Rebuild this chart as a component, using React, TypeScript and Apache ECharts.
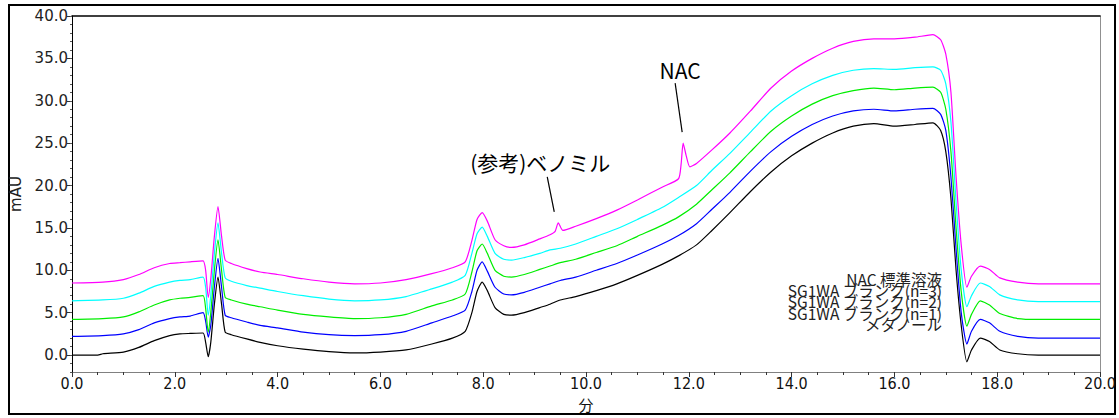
import React, { useEffect, useRef } from 'react';
import * as echarts from 'echarts';

const SERIES_NAMES = ['NAC 標準溶液', 'SG1WA ブランク(n=3)', 'SG1WA ブランク(n=2)', 'SG1WA ブランク(n=1)', 'メタノール'];
const SERIES_COLORS = ['#ff00ff', '#00ffff', '#00ee00', '#0000ff', '#000000'];

const X_LABELS = [0, 2, 4, 6, 8, 10, 12, 14, 16, 18, 20];
const Y_LABELS = [0, 5, 10, 15, 20, 25, 30, 35, 40];
const X_TITLE = '分';
const Y_TITLE = 'mAU';

type P = [number, number];

const NAC_STD: P[] = [
  [0, 8.5], [0.6, 8.6], [1.0, 8.9], [1.3, 9.5], [1.6, 10.3], [1.9, 10.8], [2.1, 10.9], [2.3, 11.0], [2.55, 11.1],
  [2.6, 10.0], [2.65, 6.8], [2.7, 9.0], [2.77, 14.0], [2.84, 17.5], [2.91, 14.0], [2.98, 11.2], [3.1, 10.8],
  [3.4, 10.2], [3.66, 9.8], [4.0, 9.5], [4.5, 9.0], [5.0, 8.6], [5.5, 8.4], [6.0, 8.5], [6.5, 8.9], [7.0, 9.6],
  [7.4, 10.3], [7.65, 11.0], [7.78, 13.5], [7.88, 16.0], [7.98, 16.8], [8.08, 15.8], [8.23, 13.6], [8.4, 12.9],
  [8.55, 12.7], [8.8, 13.0], [9.1, 13.7], [9.3, 14.2], [9.4, 14.6], [9.46, 15.6], [9.55, 14.7], [9.8, 15.2],
  [10.2, 16.1], [10.6, 17.1], [11.0, 18.3], [11.48, 19.8], [11.8, 20.8], [11.85, 22.5], [11.89, 25.0],
  [11.95, 23.5], [12.02, 22.2], [12.15, 22.6], [12.45, 24.2], [12.8, 26.2], [13.2, 28.8], [13.6, 31.5],
  [14.0, 33.5], [14.4, 35.0], [14.8, 36.2], [15.2, 37.0], [15.6, 37.3], [16.0, 37.3], [16.4, 37.5],
  [16.75, 37.8], [16.9, 37.2], [17.0, 35.5], [17.1, 31.0], [17.2, 21.0], [17.3, 13.0], [17.41, 8.0],
  [17.5, 9.3], [17.67, 10.5], [17.85, 10.1], [18.05, 9.1], [18.4, 8.6], [18.8, 8.4], [20, 8.4],
];

const BLANK_3: P[] = [
  [0, 6.4], [0.6, 6.5], [1.0, 6.7], [1.3, 7.3], [1.6, 8.1], [1.9, 8.6], [2.1, 8.8], [2.3, 8.9], [2.55, 9.2],
  [2.6, 8.0], [2.65, 4.7], [2.7, 7.0], [2.77, 12.0], [2.84, 15.6], [2.91, 12.0], [2.98, 9.1], [3.1, 8.7],
  [3.4, 8.2], [3.66, 7.9], [4.0, 7.5], [4.5, 7.0], [5.0, 6.6], [5.5, 6.4], [6.0, 6.5], [6.5, 6.9], [7.0, 7.8],
  [7.4, 8.6], [7.65, 9.4], [7.78, 12.0], [7.88, 14.3], [7.98, 15.1], [8.08, 14.0], [8.23, 12.0], [8.4, 11.3],
  [8.55, 11.2], [8.8, 11.5], [9.1, 12.0], [9.3, 12.4], [9.5, 12.6], [9.8, 13.1], [10.2, 14.0], [10.6, 14.9],
  [11.0, 16.0], [11.48, 17.4], [11.8, 18.6], [12.15, 20.0], [12.45, 21.8], [12.8, 23.8], [13.2, 26.3],
  [13.6, 28.8], [14.0, 30.6], [14.4, 32.0], [14.8, 33.0], [15.2, 33.6], [15.6, 33.8], [16.0, 33.7],
  [16.4, 33.9], [16.75, 34.0], [16.9, 33.6], [17.0, 32.0], [17.1, 27.5], [17.2, 18.0], [17.3, 10.0],
  [17.41, 5.7], [17.5, 7.0], [17.67, 8.5], [17.85, 8.1], [18.05, 7.1], [18.4, 6.5], [18.8, 6.3], [20, 6.3],
];

const BLANK_2: P[] = [
  [0, 4.2], [0.6, 4.3], [1.0, 4.5], [1.3, 5.1], [1.6, 5.9], [1.9, 6.5], [2.1, 6.7], [2.3, 6.8], [2.55, 7.0],
  [2.6, 5.5], [2.65, 2.7], [2.7, 5.0], [2.77, 10.0], [2.84, 13.6], [2.91, 10.0], [2.98, 6.8], [3.1, 6.5],
  [3.4, 6.0], [3.66, 5.7], [4.0, 5.3], [4.5, 4.8], [5.0, 4.5], [5.5, 4.3], [6.0, 4.4], [6.5, 4.8], [7.0, 5.8],
  [7.4, 6.5], [7.65, 7.2], [7.78, 9.8], [7.88, 12.3], [7.98, 13.1], [8.08, 12.0], [8.23, 10.0], [8.4, 9.3],
  [8.55, 9.2], [8.8, 9.5], [9.1, 10.1], [9.3, 10.5], [9.5, 10.9], [9.8, 11.3], [10.2, 12.1], [10.6, 12.9],
  [11.0, 14.0], [11.48, 15.3], [11.8, 16.3], [12.15, 17.8], [12.45, 19.5], [12.8, 21.5], [13.2, 24.0],
  [13.6, 26.4], [14.0, 28.2], [14.4, 29.6], [14.8, 30.6], [15.2, 31.2], [15.6, 31.5], [16.0, 31.3],
  [16.4, 31.5], [16.75, 31.6], [16.9, 31.0], [17.0, 29.0], [17.1, 24.0], [17.2, 15.0], [17.3, 7.5],
  [17.41, 3.4], [17.5, 4.8], [17.67, 6.4], [17.85, 5.9], [18.05, 4.9], [18.4, 4.3], [18.8, 4.2], [20, 4.2],
];

const BLANK_1: P[] = [
  [0, 2.2], [0.6, 2.3], [1.0, 2.5], [1.3, 3.0], [1.6, 3.8], [1.9, 4.3], [2.1, 4.5], [2.3, 4.6], [2.55, 5.0],
  [2.6, 4.0], [2.65, 2.1], [2.7, 3.5], [2.77, 8.0], [2.84, 11.4], [2.91, 8.0], [2.98, 4.7], [3.1, 4.4],
  [3.4, 3.9], [3.66, 3.5], [4.0, 3.2], [4.5, 2.7], [5.0, 2.4], [5.5, 2.3], [6.0, 2.4], [6.5, 2.8], [7.0, 3.8],
  [7.4, 4.6], [7.65, 5.3], [7.78, 7.5], [7.88, 10.0], [7.98, 11.0], [8.08, 9.9], [8.23, 8.0], [8.4, 7.2],
  [8.55, 7.1], [8.8, 7.4], [9.1, 8.0], [9.3, 8.4], [9.5, 8.8], [9.8, 9.2], [10.2, 10.0], [10.6, 10.8],
  [11.0, 11.8], [11.48, 13.1], [11.8, 14.1], [12.15, 15.5], [12.45, 17.2], [12.8, 19.2], [13.2, 21.7],
  [13.6, 24.0], [14.0, 25.8], [14.4, 27.2], [14.8, 28.2], [15.2, 28.8], [15.6, 29.0], [16.0, 28.8],
  [16.4, 29.0], [16.75, 29.1], [16.9, 28.4], [17.0, 26.5], [17.1, 21.0], [17.2, 12.5], [17.3, 5.0],
  [17.41, 1.3], [17.5, 2.8], [17.67, 4.2], [17.85, 3.8], [18.05, 2.8], [18.4, 2.2], [18.8, 2.0], [20, 2.0],
];

const METHANOL: P[] = [
  [0, 0.0], [0.5, 0.0], [0.6, 0.15], [1.0, 0.35], [1.3, 0.9], [1.6, 1.7], [1.9, 2.3], [2.1, 2.5], [2.3, 2.55],
  [2.55, 2.6], [2.6, 1.5], [2.65, -0.2], [2.7, 1.5], [2.77, 6.0], [2.84, 9.2], [2.91, 6.0], [2.98, 2.7],
  [3.1, 2.4], [3.4, 1.9], [3.66, 1.5], [4.0, 1.1], [4.5, 0.7], [5.0, 0.4], [5.5, 0.25], [6.0, 0.35],
  [6.5, 0.6], [7.0, 1.3], [7.4, 2.0], [7.65, 2.8], [7.78, 5.0], [7.88, 7.5], [7.98, 8.6], [8.08, 7.6],
  [8.23, 5.6], [8.4, 4.8], [8.55, 4.7], [8.8, 5.0], [9.1, 5.6], [9.3, 6.0], [9.5, 6.5], [9.8, 6.9],
  [10.2, 7.6], [10.6, 8.4], [11.0, 9.4], [11.48, 10.7], [11.8, 11.7], [12.15, 13.0], [12.45, 14.7],
  [12.8, 16.8], [13.2, 19.3], [13.6, 21.6], [14.0, 23.5], [14.4, 25.0], [14.8, 26.2], [15.2, 27.0],
  [15.6, 27.3], [16.0, 27.0], [16.4, 27.2], [16.75, 27.4], [16.9, 26.5], [17.0, 24.0], [17.1, 18.5],
  [17.2, 10.0], [17.3, 3.5], [17.41, -0.8], [17.5, 0.6], [17.67, 2.0], [17.85, 1.6], [18.05, 0.6],
  [18.4, 0.15], [18.8, 0.0], [20, 0.0],
];

const SERIES_DATA: P[][] = [NAC_STD, BLANK_3, BLANK_2, BLANK_1, METHANOL];

const ANNOTATIONS = [
  { label: 'NAC', t: 11.89, series: 0, line: [-1, -11, -8, -60], text: [-3, -73] },
  { label: '(参考)ベノミル', t: 9.46, series: 0, line: [-4, -11, -11, -46], text: [-18, -61] },
];

const CJK = '"Noto Sans CJK JP", "Noto Sans", sans-serif';

export default function App() {
  const ref = useRef<HTMLDivElement>(null);
  useEffect(() => {
    if (!ref.current) return;
    const chart = echarts.init(ref.current, null, { renderer: 'svg' });
    const common = { min: 0, max: 20, type: 'value' as const };
    const option: any = {
      animation: false,
      backgroundColor: '#ffffff',
      grid: { left: 72, right: 19, top: 16, bottom: 46, containLabel: false, outerBoundsMode: 'none' },
      xAxis: [
        {
          ...common,
          position: 'bottom',
          interval: 2,
          axisLine: { show: true, onZero: false, lineStyle: { color: '#808080', width: 1 } },
          axisTick: { show: true, length: 5, inside: false, lineStyle: { color: '#333' } },
          axisLabel: {
            show: true,
            formatter: (v: number) => (X_LABELS.includes(v) ? v.toFixed(1) : ''),
            color: '#111',
            fontFamily: '"Liberation Sans Narrow", "DejaVu Sans Condensed", sans-serif',
            fontSize: 16,
            margin: 3,
          },
          splitLine: { show: false },
        },
        {
          ...common,
          position: 'bottom',
          interval: 0.5,
          axisLine: { show: false, onZero: false },
          axisTick: { show: true, length: 3, lineStyle: { color: '#333' } },
          axisLabel: { show: false },
          splitLine: { show: false },
        },
        {
          ...common,
          position: 'top',
          axisLine: { show: true, onZero: false, lineStyle: { color: '#000', width: 1.5 } },
          axisTick: { show: false },
          axisLabel: { show: false },
          splitLine: { show: false },
        },
      ],
      yAxis: [
        {
          type: 'value',
          min: -2,
          max: 40,
          position: 'left',
          axisLine: { show: true, onZero: false, lineStyle: { color: '#000', width: 1 } },
          axisTick: { show: true, length: 5, customValues: Y_LABELS, lineStyle: { color: '#333' } },
          axisLabel: {
            show: true,
            customValues: Y_LABELS,
            formatter: (v: number) => v.toFixed(1),
            color: '#222',
            fontFamily: '"DejaVu Sans", sans-serif',
            fontSize: 15,
            margin: 4,
          },
          splitLine: { show: false },
          name: Y_TITLE,
          nameLocation: 'middle',
          nameGap: 44,
          nameRotate: 90,
          nameTextStyle: { fontFamily: '"DejaVu Sans", sans-serif', fontSize: 15, color: '#222' },
        },
        {
          type: 'value',
          min: -2,
          max: 40,
          interval: 1,
          position: 'left',
          axisLine: { show: false, onZero: false },
          axisTick: { show: true, length: 2, lineStyle: { color: '#555' } },
          axisLabel: { show: false },
          splitLine: { show: false },
        },
        {
          type: 'value',
          min: -2,
          max: 40,
          position: 'right',
          axisLine: { show: true, onZero: false, lineStyle: { color: '#909090', width: 1 } },
          axisTick: { show: false },
          axisLabel: { show: false },
          splitLine: { show: false },
        },
      ],
      series: SERIES_DATA.map((data, i) => ({
        name: SERIES_NAMES[i],
        type: 'line',
        xAxisIndex: 0,
        yAxisIndex: 0,
        data,
        showSymbol: false,
        smooth: 0.2,
        lineStyle: { color: SERIES_COLORS[i], width: 1.2 },
        itemStyle: { color: SERIES_COLORS[i] },
        z: 10 - i,
      })),
    };
    chart.setOption(option);

    const graphics: any[] = [
      {
        type: 'rect',
        shape: { x: 9, y: 5, width: 1106, height: 409 },
        style: { fill: 'none', stroke: '#000', lineWidth: 2 },
        silent: true,
      },
    ];
    // x-axis title centred under the plot
    const [midX] = chart.convertToPixel({ xAxisIndex: 0, yAxisIndex: 0 }, [10, 0]) as number[];
    graphics.push({
      type: 'text',
      x: midX,
      y: 404,
      style: {
        text: X_TITLE,
        fill: '#111',
        font: `15px ${CJK}`,
        textAlign: 'center',
        textVerticalAlign: 'middle',
        align: 'center',
        verticalAlign: 'middle',
      },
      z: 100,
    });
    // stacked sample labels (right aligned), as in the reference
    SERIES_NAMES.forEach((name, i) => {
      graphics.push({
        type: 'text',
        x: 942,
        y: 279 + i * 11.2,
        style: {
          text: name,
          fill: '#222',
          font: `15.5px ${CJK}`,
          textAlign: 'right',
          textVerticalAlign: 'middle',
          align: 'right',
          verticalAlign: 'middle',
        },
        z: 100,
      });
    });
    ANNOTATIONS.forEach((a) => {
      const pt = SERIES_DATA[a.series].find((p) => p[0] === a.t)!;
      const [px, py] = chart.convertToPixel({ xAxisIndex: 0, yAxisIndex: 0 }, pt) as number[];
      graphics.push({
        type: 'line',
        shape: { x1: px + a.line[0], y1: py + a.line[1], x2: px + a.line[2], y2: py + a.line[3] },
        style: { stroke: '#000', lineWidth: 1.2 },
        z: 100,
      });
      graphics.push({
        type: 'text',
        x: px + a.text[0],
        y: py + a.text[1],
        style: {
          text: a.label,
          fill: '#000',
          font: `21px ${CJK}`,
          textAlign: 'center',
          textVerticalAlign: 'middle',
          align: 'center',
          verticalAlign: 'middle',
        },
        z: 100,
      });
    });
    chart.setOption({ graphic: graphics });

    return () => chart.dispose();
  }, []);
  return <div ref={ref} style={{ position: 'absolute', left: 0, top: 0, width: 1119, height: 418 }} />;
}
